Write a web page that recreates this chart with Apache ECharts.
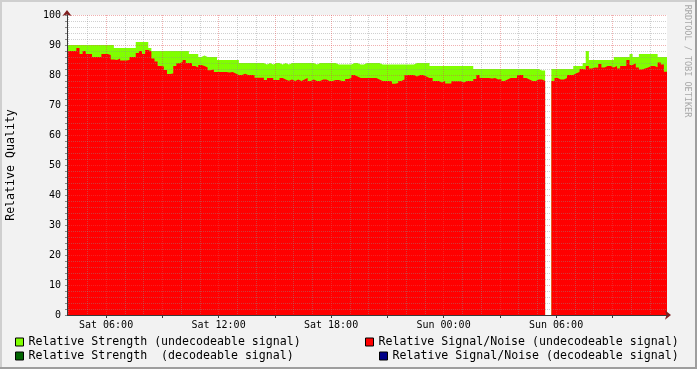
<!DOCTYPE html>
<html><head><meta charset="utf-8">
<script src="https://cdn.jsdelivr.net/npm/echarts@6/dist/echarts.min.js"></script>
<style>html,body{margin:0;padding:0;background:#F2F2F2}#c{width:697px;height:369px}</style>
</head><body><div id="c"></div>
<script>
// time axis in hours since Sat 00:00
const startHour = 3 + 55/60;   // Sat 03:55
const stepHours = 10/60;       // 10 minute samples
const spanHours = 32;

const strength = [
 90,90,90,90,90,90,90,90,90,90, 90,90,90,90,90,89,89,89,89,89,
 89,89,91,91,91,91,89,88,88,88, 88,88,88,88,88,88,88,88,88,87,
 87,87,86,86.5,86,86,86,86,85,85, 85,85,85,85,85,84,84,84,84,84,
 84,84,84,83.5,84,83.5,84,84,83.5,84, 83.5,84,84,84,84,84,84,84,84,83.5,
 84,84,84,84,84,84,83.5,83.5,83.5,83.5, 83.5,84,84,83.5,83.5,84,84,84,84,84,
 83.5,83.5,83.5,83.5,83.5,83.5,83.5,83.5,83.5,83.5, 83.5,84,84,84,84,84,83,83,83,83,
 83,83,83,83,83,83,83,83,83,83, 82,82,82,82,82,82,82,82,82,82,
 82,82,82,82,82,82,82,82,82,82, 82,81.5,81.5,null,null,82,82,82,82,82,
 82,82,83,83,83,84,88,85,85,85, 85,85,85,85,85,86,86,86,86,86,
 87,86,86,87,87,87,87,87,87,86, 86,86
];
const snr = [
 88,88,88,89,87,88,87,87,86,86, 86,87,87,86.7,85.2,85,85.5,84.8,84.8,85,
 86,86,87.3,88,87,88.3,87.8,85.5,84.5,83, 82.8,81.7,80.3,80.5,83,83.9,84.3,85,84,84,
 83,82.5,83.3,83,82.5,81.6,81.8,81,81,81, 81,80.8,81,80.5,80,80,80.4,80,80,80,
 79.1,79.1,79.1,78.3,79,79,78.3,78.3,79,78.5, 78.1,78.5,78,78.5,78,78.5,79,78,78.5,78,
 78,78.5,78.5,78,78,78.3,78.3,78,78,78.7, 79,80,79.5,79,79,79,79,79,79,78.5,
 78,78,78,77.9,77.1,77.3,78,78.5,80,80, 80,79.5,80,80,79.5,79,79,78,78,77.5,
 78,77.2,77.2,77.9,77.9,77.9,77.5,78,78,78, 78.7,80,79,79,79,78.8,79,78.5,78.7,78,
 78.5,79,79,79,80,80,79,78.5,78,78, 78.5,78.5,78,null,null,78,79,78.5,78.5,79,
 80,80,80.6,81,82,81.8,83,82.2,82.5,82.4, 83.7,82.5,83,83,82.5,83,82.2,83,83,85,
 83.3,83.9,82.5,81.8,82.2,82.5,83,83,82.6,84.2, 83.5,81.1
];
const strengthDecoded = [];
const snrDecoded = [];

const seriesNames = [
 'Relative Strength (undecodeable signal)',
 'Relative Strength  (decodeable signal)',
 'Relative Signal/Noise (undecodeable signal)',
 'Relative Signal/Noise (decodeable signal)'
];
const xGridHours = [4,5,6,7,8,9,10,11,12,13,14,15,16,17,18,19,20,21,22,23,24,25,26,27,28,29,30,31,32,33,34,35];
const xMajorTickHours = [6,9,12,15,18,21,24,27,30,33];
const xLabelHours = [6,12,18,24,30];
const xLabels = ['Sat 06:00','Sat 12:00','Sat 18:00','Sun 00:00','Sun 06:00'];
const yLabelValues = [0,10,20,30,40,50,60,70,80,90,100];

function toStep(vals){
  const out=[];
  for(let i=0;i<vals.length;i++){
    const t=startHour+i*stepHours, v=vals[i];
    if(v==null){out.push([t,null]);continue;}
    out.push([t,v]);
    if(i===vals.length-1||vals[i+1]==null) out.push([t+stepHours,v]);
  }
  return out;
}

const FONT='DejaVu Sans Mono';
const MINOR='rgba(143,143,143,0.42)';
const MAJOR='rgba(222,79,79,0.45)';
const chart=echarts.init(document.getElementById('c'));
function areaSeries(name,data,color,z){
  return {name,type:'line',data:toStep(data),step:'end',showSymbol:false,connectNulls:false,
    lineStyle:{width:0,color},itemStyle:{color},areaStyle:{color,opacity:1,origin:'start'},
    silent:true,z,animation:false};
}
const legendCommon={padding:0,icon:'rect',itemWidth:8,itemHeight:8,itemGap:0,selectedMode:false,
  itemStyle:{borderColor:'#000',borderWidth:1},
  textStyle:{fontFamily:FONT,fontSize:11.6,color:'#000'}};
chart.setOption({
  backgroundColor:'#F2F2F2',
  animation:false,
  grid:{left:67,right:30,top:15,bottom:54,show:true,backgroundColor:'#FFFFFF',borderWidth:0,containLabel:false},
  legend:[
    Object.assign({left:15,top:336,data:[seriesNames[0]]},legendCommon),
    Object.assign({left:15,top:350,data:[seriesNames[1]]},legendCommon),
    Object.assign({left:365,top:336,data:[seriesNames[2]]},legendCommon),
    Object.assign({left:379,top:350,data:[seriesNames[3]]},legendCommon)
  ],
  xAxis:[
    {type:'value',min:startHour,max:startHour+spanHours,position:'bottom',z:5,
     axisLine:{show:true,onZero:false,lineStyle:{color:'#3A3A3A',width:1}},
     axisTick:{show:false,customValues:xGridHours},
     axisLabel:{customValues:xLabelHours,formatter:v=>xLabels[xLabelHours.indexOf(Math.round(v))]||'',
       fontFamily:FONT,fontSize:10,color:'#000',margin:5},
     splitLine:{show:true,lineStyle:{color:[MINOR,MINOR,MAJOR],type:[1,1],width:1}}},
    {type:'value',min:startHour,max:startHour+spanHours,position:'bottom',z:4,
     axisLine:{show:true,onZero:false,symbol:['none','arrow'],symbolSize:[7,6],symbolOffset:[0,4],lineStyle:{color:'#801F1F'}},
     axisTick:{show:true,customValues:xMajorTickHours,length:3,lineStyle:{color:'#3A3A3A'}},
     axisLabel:{show:false},splitLine:{show:false}}
  ],
  yAxis:[
    {type:'value',min:0,max:100,interval:2,position:'left',z:5,
     axisLine:{show:true,onZero:false,lineStyle:{color:'#3A3A3A'}},
     axisTick:{show:true,length:2,lineStyle:{color:'#8A8A8A'}},
     axisLabel:{customValues:yLabelValues,fontFamily:FONT,fontSize:10,color:'#000',margin:6},
     splitLine:{show:true,lineStyle:{color:[MAJOR,MINOR,MINOR,MINOR,MINOR],type:[1,1],width:1}}},
    {type:'value',min:0,max:100,position:'left',z:4,
     axisLine:{show:true,onZero:false,symbol:['none','arrow'],symbolSize:[7,6],symbolOffset:[0,5],lineStyle:{color:'#801F1F'}},
     axisTick:{show:false},axisLabel:{show:false},splitLine:{show:false}}
  ],
  series:[
    areaSeries(seriesNames[0],strength,'#80FF00',2),
    areaSeries(seriesNames[2],snr,'#FF0000',3),
    areaSeries(seriesNames[1],strengthDecoded,'#006400',3),
    areaSeries(seriesNames[3],snrDecoded,'#000088',3)
  ],
  graphic:[
    {type:'rect',shape:{x:0,y:0,width:697,height:2},style:{fill:'#CFCFCF'},silent:true},
    {type:'rect',shape:{x:0,y:0,width:2,height:369},style:{fill:'#CFCFCF'},silent:true},
    {type:'rect',shape:{x:695,y:0,width:2,height:369},style:{fill:'#9E9E9E'},silent:true},
    {type:'rect',shape:{x:0,y:367,width:697,height:2},style:{fill:'#9E9E9E'},silent:true},
    {type:'text',x:11,y:165,rotation:Math.PI/2,silent:true,
     style:{text:'Relative Quality',font:'11.6px "DejaVu Sans Mono"',fill:'#000',align:'center',verticalAlign:'middle'}},
    {type:'text',x:687,y:61,rotation:-Math.PI/2,silent:true,
     style:{text:'RRDTOOL / TOBI OETIKER',font:'8.5px "DejaVu Sans Mono"',fill:'#A8A8A8',align:'center',verticalAlign:'middle'}}
  ]
});
</script></body></html>
